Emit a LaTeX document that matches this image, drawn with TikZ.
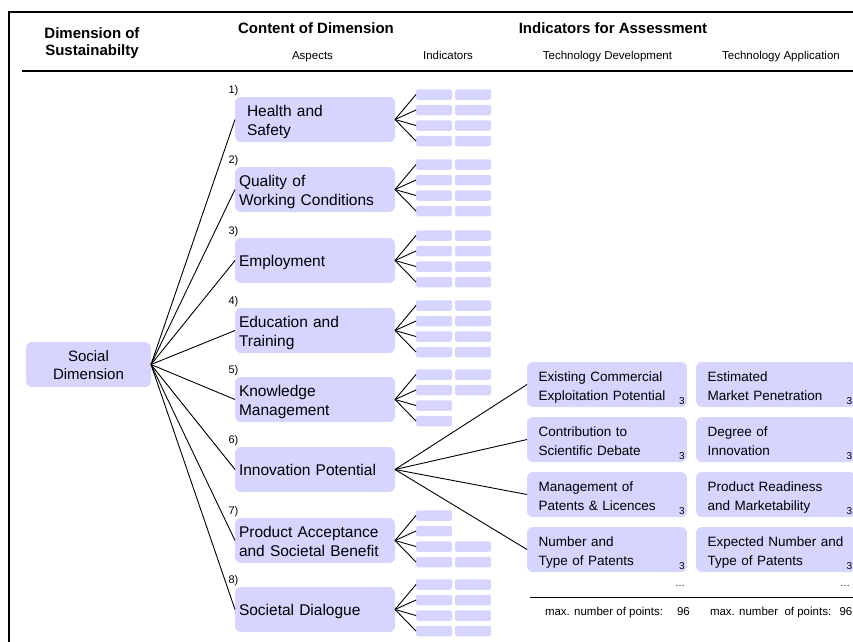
\documentclass[tikz,border=0pt]{standalone}
\usepackage{fontspec}
\setmainfont{Liberation Sans}
\definecolor{boxc}{RGB}{213,213,255}
\begin{document}
\begin{tikzpicture}[x=1pt,y=-1pt,
  every node/.style={inner sep=0pt, outer sep=0pt},
  frame/.style={line width=2.5pt},
  rule/.style={line width=1.2pt},
  link/.style={line width=0.9pt},
  head/.style={anchor=base, font=\bfseries\fontsize{15}{17}\selectfont, align=center},
  subhead/.style={anchor=base, font=\fontsize{11.5}{14}\selectfont},
  aspect/.style={rectangle, rounded corners=6pt, fill=boxc, minimum width=160pt, minimum height=45pt,
     text width=152pt, inner xsep=4pt, align=left, anchor=north west,
     text height=11pt, text depth=18pt, font=\fontsize{15.5}{19}\selectfont},
  oneline/.style={text depth=0pt},
  social/.style={rectangle, rounded corners=6pt, fill=boxc, minimum width=125pt, minimum height=45pt,
     text width=125pt, align=center, text height=11pt, text depth=18pt, font=\fontsize{15}{18.3}\selectfont},
  num/.style={anchor=base west, font=\fontsize{11}{13}\selectfont},
  sbox/.style={rectangle, rounded corners=2pt, fill=boxc, minimum width=36pt, minimum height=10.5pt, anchor=west},
  ibox/.style={rectangle, rounded corners=6pt, fill=boxc, minimum width=160pt, minimum height=45pt,
     text width=137pt, inner xsep=11.5pt, align=left, anchor=north west,
     text height=10pt, text depth=16pt, font=\fontsize{13.5}{18.5}\selectfont},
  pts/.style={anchor=base, font=\fontsize{10}{12}\selectfont},
  foot/.style={anchor=base west, font=\fontsize{11.5}{14}\selectfont}
]
\useasboundingbox (0,0) rectangle (853,641);
% frame
\coordinate (fbl) at (9,645);
\coordinate (ftl) at (9,12);
\coordinate (ftr) at (856,12);
\draw[frame] (fbl) -- (ftl) -- (ftr);
\coordinate (hl) at (22,71);
\coordinate (hr) at (856,71);
\draw[rule] (hl) -- (hr);

% headers
\node[head] (h1) at (92,55) {Dimension of\\Sustainabilty};
\node[head] (h2) at (316,33.3) {Content of Dimension};
\node[head] (h3) at (613,33.3) {Indicators for Assessment};
\node[subhead] (h4) at (312.5,59.5) {Aspects};
\node[subhead] (h5) at (448,59.5) {Indicators};
\node[subhead] (h6) at (607.5,59.5) {Technology Development};
\node[subhead] (h7) at (781,59.5) {Technology Application};

% social dimension
\node[social] (sd) at (88.5,364.5) {Social\\Dimension};

% aspects
\node[aspect] (a1) at (235,97) {\hspace*{8pt}Health and\\\hspace*{8pt}Safety};
\node[aspect] (a2) at (235,167) {Quality of\\Working Conditions};
\node[aspect,oneline] (a3) at (235,238) {Employment};
\node[aspect] (a4) at (235,308) {Education and\\Training};
\node[aspect] (a5) at (235,377) {Knowledge\\Management};
\node[aspect,oneline] (a6) at (235,447) {Innovation Potential};
\node[aspect] (a7) at (235,518) {Product Acceptance\\and Societal Benefit};
\node[aspect,oneline] (a8) at (235,587) {Societal Dialogue};

\foreach \i/\t in {1/97,2/167,3/238,4/308,5/377,6/447,7/518,8/587} {
  \node[num] (n\i) at (228.5,{\t-3.7}) {\i)};
  \draw[link] (sd.east) -- (a\i.west);
}

% small indicator boxes
\foreach \i/\t/\rows in {1/97/{1,2,3,4},2/167/{1,2,3,4},3/238/{1,2,3,4},4/308/{1,2,3,4},5/377/{1,2},7/518/{3,4},8/587/{1,2,3,4}} {
  \foreach \r in {1,2,3,4} {
    \node[sbox] (s\i-\r-a) at (416,{\t-18+15.5*\r}) {};
    \draw[link] (a\i.east) -- (s\i-\r-a.west);
  }
  \foreach \r in \rows {
    \node[sbox] (s\i-\r-b) at (455,{\t-18+15.5*\r}) {};
  }
}

% technology development indicators
\node[ibox] (d1) at (527,362) {Existing Commercial\\Exploitation Potential};
\node[ibox] (d2) at (527,417) {Contribution to\\Scientific Debate};
\node[ibox] (d3) at (527,472) {Management of\\Patents \& Licences};
\node[ibox] (d4) at (527,527) {Number and\\Type of Patents};
% technology application indicators
\node[ibox] (e1) at (696,362) {Estimated\\Market Penetration};
\node[ibox] (e2) at (696,417) {Degree of\\Innovation};
\node[ibox] (e3) at (696,472) {Product Readiness\\and Marketability};
\node[ibox] (e4) at (696,527) {Expected Number and\\Type of Patents};

\foreach \k/\t in {1/362,2/417,3/472,4/527} {
  \draw[link] (a6.east) -- (d\k.west);
  \node[pts] (dp\k) at (682,{\t+42.5}) {3};
  \node[pts] (ep\k) at (849.5,{\t+42.5}) {3};
}

% dots and totals
\node[pts] (dd) at (680,586) {\dots};
\node[pts] (ed) at (845,586) {\dots};
\coordinate (fl) at (530,597);
\coordinate (fr) at (856,597);
\draw[link] (fl) -- (fr);
\node[foot] (t1) at (545,615) {max. number of points:};
\node[foot] (v1) at (677,615) {96};
\node[foot] (t2) at (710,615) {max. number\ \ of points:};
\node[foot] (v2) at (839.5,615) {96};
\end{tikzpicture}
\end{document}
